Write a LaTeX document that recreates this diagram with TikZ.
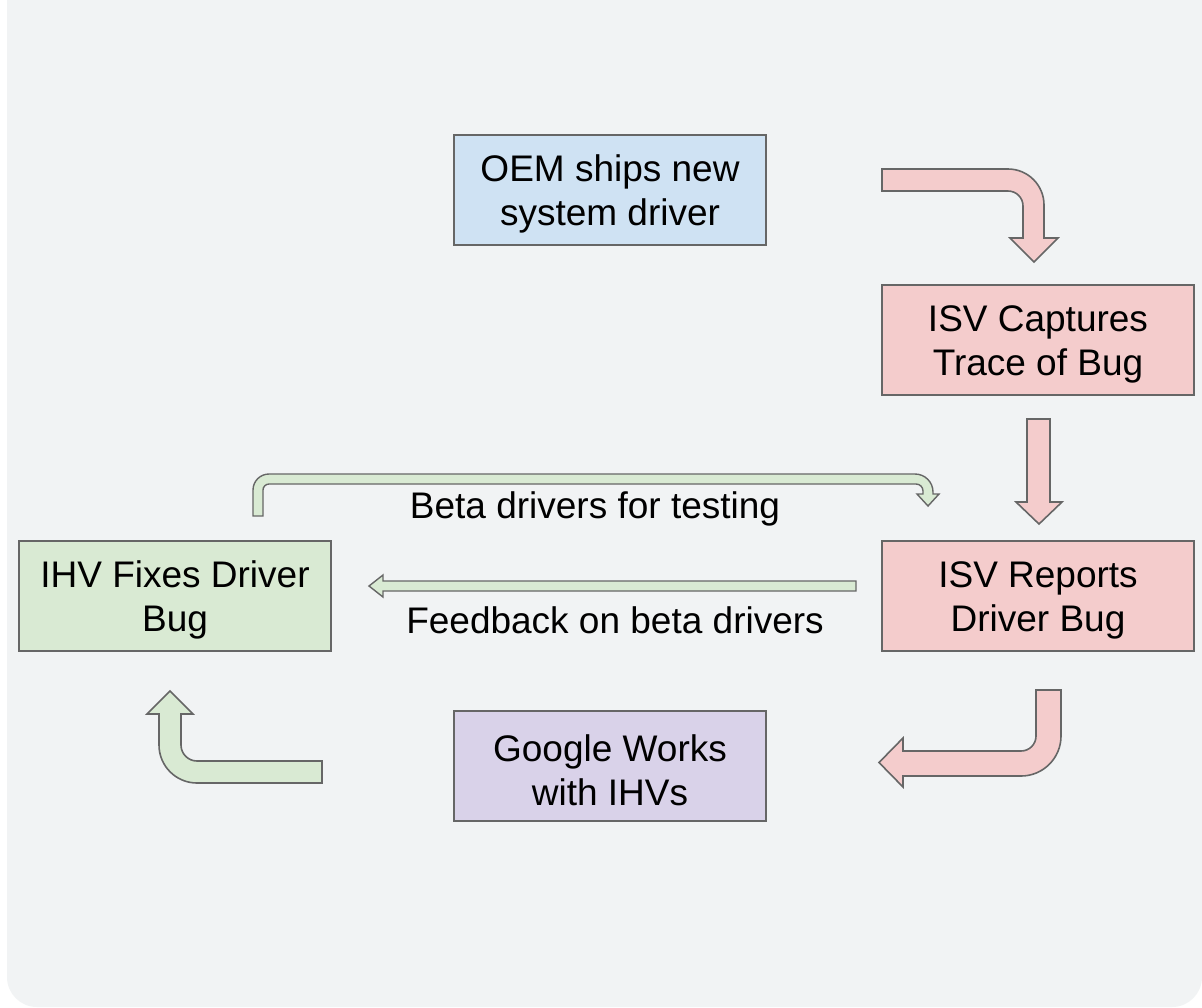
\documentclass[tikz,border=0pt]{standalone}
\usepackage{fontspec}
\setmainfont{Liberation Sans}
\usetikzlibrary{calc}
\definecolor{bgc}{HTML}{F1F3F4}
\definecolor{strk}{HTML}{666666}
\definecolor{pinkc}{HTML}{F4CCCC}
\definecolor{greenc}{HTML}{D9EAD3}
\definecolor{bluec}{HTML}{CFE2F3}
\definecolor{purplec}{HTML}{D9D2E9}
\tikzset{
  stepbox/.style={draw=strk, line width=0.7pt, minimum width=156pt, minimum height=55pt,
    inner sep=0pt},
  boxtext/.style={align=center, inner sep=0pt, font=\fontsize{18.5pt}{22pt}\selectfont},
  blockarrow/.style={draw=strk, line width=0.8pt, line join=miter},
  lbl/.style={font=\fontsize{18.5pt}{22pt}\selectfont, inner sep=0pt}
}
\begin{document}
\begin{tikzpicture}[x=0.5pt,y=-0.5pt]
\useasboundingbox (0,0) rectangle (1202,1007);
\fill[white] (0,0) rectangle (1202,1007);
\fill[bgc, rounded corners=15pt] (7,-60) rectangle (1202,1007);

% boxes
\node[stepbox, fill=bluec] (oem) at (610,190) {};
\node[stepbox, fill=pinkc] (cap) at (1038,340) {};
\node[stepbox, fill=pinkc] (rep) at (1038,596) {};
\node[stepbox, fill=greenc] (ihv) at (175,596) {};
\node[stepbox, fill=purplec] (goo) at (610,766) {};
\node[boxtext] (oemt) at ([yshift=-2pt]oem.center) {OEM ships new\\system driver};
\node[boxtext] (capt) at ([yshift=-2pt]cap.center) {ISV Captures\\Trace of Bug};
\node[boxtext] (rept) at ([yshift=-2pt]rep.center) {ISV Reports\\Driver Bug};
\node[boxtext] (ihvt) at ([yshift=-2pt]ihv.center) {IHV Fixes Driver\\Bug};
\node[boxtext] (goot) at ([yshift=-2pt]goo.center) {Google Works\\with IHVs};

% top right bent arrow
\draw[blockarrow, fill=pinkc] (882,169) -- (1008,169)
  .. controls ($(1008,169)!0.552!(1044,169)$) and ($(1044,205)!0.552!(1044,169)$) .. (1044,205)
  -- (1044,238) -- (1058,238) -- (1034,262) -- (1010,238) -- (1023,238) -- (1023,206)
  .. controls ($(1023,206)!0.552!(1023,191)$) and ($(1008,191)!0.552!(1023,191)$) .. (1008,191)
  -- (882,191) -- cycle;

% straight down arrow
\draw[blockarrow, fill=pinkc] (1027,419) -- (1050,419) -- (1050,502) -- (1062,502)
  -- (1039,524) -- (1016,502) -- (1027,502) -- cycle;

% bottom right bent arrow
\draw[blockarrow, fill=pinkc] (1036,690) -- (1061,690) -- (1061,736)
  .. controls ($(1061,736)!0.552!(1061,776)$) and ($(1021,776)!0.552!(1061,776)$) .. (1021,776)
  -- (903,776) -- (903,787) -- (879,762.5) -- (903,738) -- (903,751) -- (1021,751)
  .. controls ($(1021,751)!0.552!(1036,751)$) and ($(1036,736)!0.552!(1036,751)$) .. (1036,736)
  -- cycle;

% bottom left bent arrow
\draw[blockarrow, fill=greenc] (322,761) -- (322,783) -- (197,783)
  .. controls ($(197,783)!0.552!(159,783)$) and ($(159,745)!0.552!(159,783)$) .. (159,745)
  -- (159,714) -- (147,714) -- (170,691) -- (193,714) -- (181,714) -- (181,745)
  .. controls ($(181,745)!0.552!(181,761)$) and ($(197,761)!0.552!(181,761)$) .. (197,761)
  -- cycle;

% beta drivers thin arrow
\draw[blockarrow, fill=greenc, line width=0.7pt] (253,516) -- (253,490)
  .. controls ($(253,490)!0.552!(253,474)$) and ($(269,474)!0.552!(253,474)$) .. (269,474)
  -- (915,474)
  .. controls ($(915,474)!0.552!(933,474)$) and ($(933,492)!0.552!(933,474)$) .. (933,492)
  -- (933,494) -- (939,494) -- (928,506) -- (917,494) -- (923,494) -- (923,491)
  .. controls ($(923,491)!0.552!(923,484)$) and ($(916,484)!0.552!(923,484)$) .. (916,484)
  -- (269,484)
  .. controls ($(269,484)!0.552!(263,484)$) and ($(263,490)!0.552!(263,484)$) .. (263,490)
  -- (263,516) -- cycle;

% feedback thin arrow
\draw[blockarrow, fill=greenc, line width=0.7pt] (856,581) -- (856,591) -- (383,591)
  -- (383,597) -- (369,586) -- (383,575) -- (383,581) -- cycle;

% labels
\node[lbl] (beta) at (595,509) {Beta drivers for testing};
\node[lbl] (feed) at (615,620) {Feedback on beta drivers};
\end{tikzpicture}
\end{document}
